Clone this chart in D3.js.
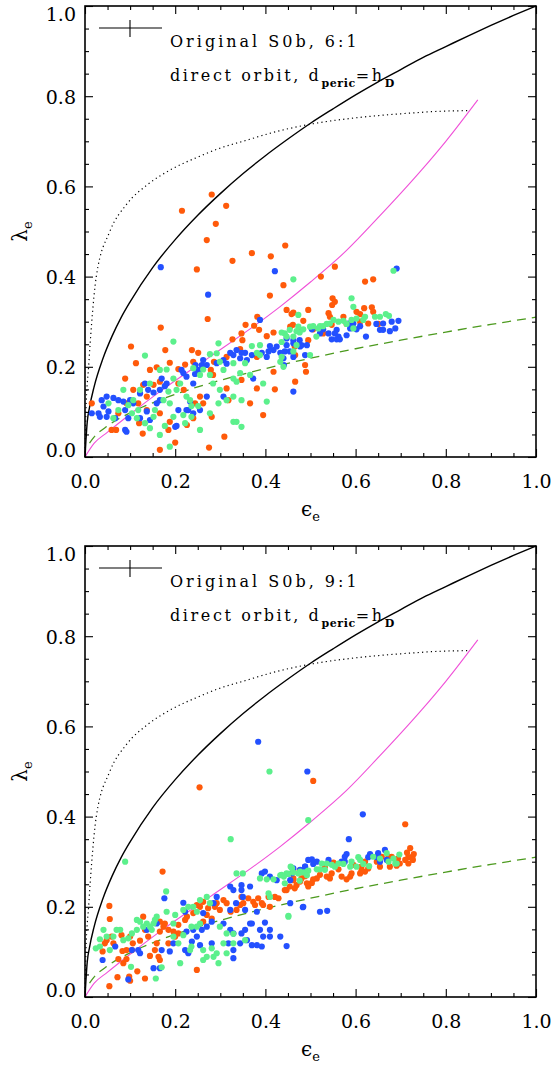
<!DOCTYPE html>
<html>
<head>
<meta charset="utf-8">
<script src="https://cdn.jsdelivr.net/npm/d3@7/dist/d3.min.js"></script>
<style>
  body { margin: 0; background: #fff; }
</style>
</head>
<body>
<div id="chart"></div>
<script>
// tick values
const majorTicks = [0, 0.2, 0.4, 0.6, 0.8, 1.0];
const minorTicks = [0.05, 0.1, 0.15, 0.25, 0.3, 0.35, 0.45, 0.5, 0.55, 0.65, 0.7, 0.75, 0.85, 0.9, 0.95];

// reference curves [epsilon, lambda]
const isoCurve = [[0,0],[0.005,0.078],[0.01,0.11],[0.02,0.155],[0.04,0.219],[0.06,0.268],[0.08,0.309],[0.1,0.344],[0.15,0.42],[0.2,0.482],[0.25,0.536],[0.3,0.584],[0.35,0.628],[0.4,0.668],[0.45,0.705],[0.5,0.74],[0.55,0.772],[0.6,0.803],[0.65,0.832],[0.7,0.859],[0.75,0.886],[0.8,0.91],[0.85,0.934],[0.9,0.957],[0.95,0.979],[1.0,1.0]];
const dottedCurve = [[0,0],[0.002,0.1],[0.008,0.2],[0.015,0.3],[0.025,0.4],[0.055,0.5],[0.092,0.56],[0.14,0.605],[0.188,0.636],[0.25,0.665],[0.3,0.685],[0.35,0.7],[0.43,0.723],[0.5,0.738],[0.6,0.752],[0.7,0.761],[0.8,0.767],[0.85,0.768]];
const magentaCurve = [[0,0],[0.02,0.03],[0.05,0.055],[0.09,0.087],[0.166,0.145],[0.277,0.222],[0.38,0.294],[0.432,0.333],[0.5,0.388],[0.58,0.458],[0.654,0.535],[0.746,0.636],[0.8,0.7],[0.871,0.792]];
const dashedCurve = [[0.01,0.031],[0.02,0.044],[0.05,0.069],[0.1,0.098],[0.15,0.12],[0.2,0.139],[0.3,0.17],[0.4,0.196],[0.5,0.219],[0.6,0.24],[0.7,0.259],[0.8,0.277],[0.9,0.294],[1.0,0.31]];

// top panel (6:1) points
const top61Orange = [[0.015,0.119],[0.281,0.582],[0.313,0.557],[0.215,0.546],[0.290,0.517],[0.270,0.481],[0.370,0.452],[0.444,0.469],[0.327,0.435],[0.412,0.445],[0.248,0.416],[0.410,0.358],[0.440,0.381],[0.272,0.306],[0.168,0.287],[0.447,0.326],[0.458,0.317],[0.495,0.326],[0.102,0.245],[0.178,0.237],[0.113,0.208],[0.089,0.174],[0.159,0.199],[0.356,0.293],[0.382,0.311],[0.375,0.291],[0.386,0.282],[0.347,0.274],[0.327,0.261],[0.349,0.259],[0.403,0.268],[0.418,0.276],[0.455,0.289],[0.477,0.282],[0.462,0.320],[0.495,0.259],[0.188,0.209],[0.207,0.195],[0.222,0.205],[0.237,0.237],[0.240,0.211],[0.251,0.231],[0.261,0.200],[0.279,0.193],[0.286,0.211],[0.314,0.222],[0.344,0.239],[0.381,0.222],[0.418,0.189],[0.347,0.171],[0.381,0.152],[0.421,0.150],[0.314,0.152],[0.284,0.182],[0.255,0.134],[0.262,0.119],[0.240,0.086],[0.226,0.071],[0.185,0.060],[0.200,0.032],[0.166,0.016],[0.275,0.021],[0.309,0.045],[0.281,0.089],[0.144,0.193],[0.129,0.160],[0.152,0.160],[0.166,0.167],[0.137,0.134],[0.107,0.149],[0.118,0.119],[0.092,0.119],[0.074,0.097],[0.059,0.060],[0.069,0.060],[0.120,0.075],[0.128,0.052],[0.137,0.104],[0.166,0.097],[0.188,0.078],[0.207,0.163],[0.219,0.149],[0.244,0.119],[0.318,0.126],[0.366,0.119],[0.395,0.093],[0.490,0.189],[0.466,0.167],[0.466,0.226],[0.488,0.204],[0.554,0.422],[0.523,0.400],[0.621,0.389],[0.639,0.394],[0.549,0.352],[0.554,0.344],[0.548,0.337],[0.484,0.302],[0.461,0.293],[0.540,0.319],[0.543,0.311],[0.573,0.311],[0.602,0.322],[0.610,0.317],[0.636,0.332],[0.639,0.322],[0.619,0.330],[0.580,0.295],[0.610,0.300],[0.628,0.296],[0.506,0.283],[0.528,0.274],[0.547,0.293],[0.465,0.245],[0.650,0.295]];
const top61Blue = [[0.168,0.421],[0.273,0.360],[0.421,0.412],[0.388,0.304],[0.015,0.097],[0.030,0.097],[0.037,0.126],[0.048,0.134],[0.063,0.131],[0.074,0.126],[0.085,0.123],[0.100,0.126],[0.107,0.119],[0.041,0.112],[0.052,0.101],[0.033,0.089],[0.048,0.089],[0.067,0.086],[0.089,0.104],[0.096,0.086],[0.089,0.060],[0.092,0.056],[0.122,0.086],[0.137,0.101],[0.144,0.082],[0.133,0.163],[0.140,0.149],[0.152,0.143],[0.122,0.141],[0.166,0.149],[0.177,0.157],[0.170,0.174],[0.181,0.163],[0.159,0.119],[0.166,0.126],[0.207,0.104],[0.200,0.067],[0.218,0.186],[0.214,0.193],[0.225,0.178],[0.240,0.163],[0.244,0.184],[0.245,0.204],[0.259,0.204],[0.251,0.193],[0.262,0.215],[0.270,0.204],[0.233,0.123],[0.225,0.104],[0.240,0.097],[0.255,0.104],[0.270,0.134],[0.307,0.215],[0.314,0.207],[0.322,0.231],[0.329,0.226],[0.336,0.237],[0.347,0.231],[0.355,0.231],[0.370,0.226],[0.359,0.215],[0.344,0.219],[0.307,0.134],[0.373,0.174],[0.418,0.237],[0.410,0.246],[0.407,0.234],[0.425,0.245],[0.433,0.231],[0.447,0.263],[0.462,0.252],[0.477,0.245],[0.492,0.248],[0.488,0.226],[0.441,0.204],[0.462,0.145],[0.392,0.231],[0.403,0.222],[0.292,0.208],[0.229,0.104],[0.203,0.069],[0.691,0.418],[0.680,0.300],[0.695,0.302],[0.661,0.296],[0.646,0.295],[0.688,0.285],[0.676,0.279],[0.661,0.282],[0.654,0.282],[0.623,0.267],[0.602,0.283],[0.588,0.285],[0.584,0.296],[0.558,0.282],[0.554,0.274],[0.562,0.267],[0.547,0.261],[0.558,0.261],[0.565,0.261],[0.540,0.274],[0.528,0.283],[0.521,0.274],[0.503,0.283],[0.462,0.222],[0.447,0.248],[0.462,0.259],[0.476,0.259],[0.480,0.248],[0.443,0.234],[0.454,0.234],[0.440,0.219],[0.580,0.270],[0.595,0.296],[0.610,0.290]];
const top61Green = [[0.196,0.256],[0.133,0.225],[0.296,0.252],[0.473,0.315],[0.381,0.231],[0.370,0.246],[0.388,0.248],[0.355,0.208],[0.329,0.208],[0.292,0.230],[0.277,0.228],[0.299,0.211],[0.307,0.193],[0.329,0.174],[0.336,0.167],[0.344,0.186],[0.366,0.182],[0.395,0.163],[0.433,0.211],[0.436,0.222],[0.277,0.182],[0.255,0.182],[0.240,0.197],[0.262,0.194],[0.284,0.163],[0.299,0.149],[0.329,0.134],[0.314,0.126],[0.347,0.126],[0.403,0.123],[0.296,0.119],[0.277,0.097],[0.336,0.078],[0.347,0.067],[0.329,0.078],[0.166,0.193],[0.181,0.194],[0.196,0.174],[0.211,0.163],[0.203,0.149],[0.185,0.145],[0.174,0.126],[0.188,0.119],[0.225,0.134],[0.233,0.126],[0.236,0.113],[0.251,0.113],[0.236,0.089],[0.218,0.093],[0.222,0.075],[0.255,0.060],[0.196,0.089],[0.177,0.069],[0.188,0.023],[0.166,0.049],[0.144,0.064],[0.152,0.089],[0.133,0.075],[0.115,0.086],[0.118,0.104],[0.104,0.097],[0.096,0.115],[0.085,0.149],[0.063,0.086],[0.074,0.104],[0.052,0.119],[0.107,0.126],[0.144,0.163],[0.122,0.149],[0.155,0.104],[0.388,0.226],[0.684,0.413],[0.462,0.394],[0.591,0.352],[0.595,0.333],[0.667,0.317],[0.674,0.313],[0.654,0.311],[0.643,0.311],[0.621,0.311],[0.617,0.304],[0.602,0.307],[0.591,0.304],[0.573,0.302],[0.562,0.300],[0.551,0.304],[0.543,0.296],[0.536,0.295],[0.521,0.290],[0.517,0.285],[0.506,0.290],[0.499,0.289],[0.484,0.283],[0.473,0.289],[0.476,0.276],[0.469,0.279],[0.454,0.282],[0.443,0.274],[0.436,0.276],[0.462,0.267],[0.447,0.267],[0.436,0.255],[0.513,0.267],[0.595,0.285],[0.580,0.295],[0.528,0.290],[0.469,0.248],[0.499,0.226],[0.462,0.234],[0.440,0.200]];

// bottom panel (9:1) points
const bot91Orange = [[0.254,0.465],[0.172,0.278],[0.054,0.202],[0.055,0.173],[0.054,0.024],[0.072,0.044],[0.098,0.045],[0.100,0.036],[0.133,0.041],[0.116,0.057],[0.248,0.060],[0.085,0.075],[0.074,0.084],[0.092,0.084],[0.083,0.102],[0.092,0.104],[0.104,0.104],[0.106,0.119],[0.100,0.134],[0.081,0.137],[0.048,0.126],[0.039,0.101],[0.059,0.134],[0.044,0.119],[0.063,0.119],[0.122,0.125],[0.129,0.178],[0.133,0.149],[0.140,0.134],[0.144,0.091],[0.159,0.119],[0.163,0.089],[0.166,0.082],[0.155,0.104],[0.166,0.145],[0.174,0.156],[0.177,0.163],[0.166,0.167],[0.185,0.149],[0.196,0.145],[0.207,0.160],[0.207,0.141],[0.200,0.134],[0.185,0.119],[0.222,0.171],[0.226,0.178],[0.240,0.186],[0.248,0.204],[0.255,0.200],[0.262,0.211],[0.273,0.197],[0.288,0.200],[0.292,0.208],[0.299,0.193],[0.307,0.215],[0.314,0.208],[0.323,0.189],[0.336,0.193],[0.344,0.204],[0.347,0.222],[0.351,0.208],[0.362,0.219],[0.373,0.211],[0.377,0.204],[0.384,0.219],[0.392,0.208],[0.395,0.204],[0.407,0.222],[0.410,0.200],[0.421,0.222],[0.429,0.219],[0.447,0.237],[0.469,0.248],[0.477,0.256],[0.492,0.252],[0.462,0.263],[0.495,0.245],[0.270,0.182],[0.281,0.174],[0.240,0.152],[0.262,0.167],[0.506,0.479],[0.710,0.383],[0.721,0.330],[0.714,0.320],[0.726,0.311],[0.729,0.317],[0.717,0.310],[0.710,0.304],[0.694,0.307],[0.698,0.296],[0.717,0.296],[0.727,0.304],[0.680,0.311],[0.673,0.311],[0.676,0.289],[0.691,0.291],[0.658,0.311],[0.654,0.289],[0.647,0.300],[0.621,0.300],[0.613,0.289],[0.628,0.285],[0.610,0.274],[0.621,0.278],[0.613,0.280],[0.591,0.274],[0.588,0.267],[0.580,0.261],[0.569,0.267],[0.551,0.298],[0.562,0.283],[0.547,0.274],[0.543,0.263],[0.536,0.267],[0.521,0.271],[0.514,0.263],[0.506,0.261],[0.503,0.253],[0.480,0.263],[0.476,0.281],[0.488,0.268],[0.462,0.259],[0.465,0.241],[0.443,0.237],[0.454,0.245],[0.532,0.289],[0.595,0.293]];
const bot91Blue = [[0.384,0.566],[0.493,0.500],[0.176,0.219],[0.218,0.209],[0.222,0.189],[0.262,0.186],[0.285,0.208],[0.292,0.222],[0.322,0.245],[0.329,0.237],[0.347,0.237],[0.347,0.248],[0.366,0.245],[0.350,0.222],[0.335,0.208],[0.322,0.193],[0.355,0.193],[0.381,0.189],[0.392,0.274],[0.399,0.278],[0.410,0.267],[0.425,0.259],[0.462,0.285],[0.477,0.282],[0.488,0.289],[0.495,0.304],[0.484,0.200],[0.455,0.208],[0.399,0.165],[0.366,0.163],[0.355,0.149],[0.347,0.141],[0.329,0.141],[0.322,0.149],[0.307,0.163],[0.281,0.167],[0.270,0.156],[0.259,0.149],[0.240,0.149],[0.248,0.134],[0.255,0.115],[0.229,0.097],[0.222,0.104],[0.281,0.119],[0.318,0.119],[0.329,0.104],[0.329,0.086],[0.344,0.119],[0.359,0.126],[0.370,0.115],[0.381,0.115],[0.392,0.112],[0.395,0.134],[0.410,0.134],[0.410,0.149],[0.433,0.134],[0.447,0.113],[0.388,0.149],[0.370,0.163],[0.196,0.119],[0.188,0.101],[0.170,0.104],[0.166,0.064],[0.152,0.064],[0.122,0.097],[0.118,0.104],[0.104,0.104],[0.096,0.039],[0.039,0.082],[0.067,0.112],[0.137,0.149],[0.159,0.163],[0.237,0.123],[0.225,0.145],[0.616,0.405],[0.585,0.350],[0.665,0.326],[0.580,0.317],[0.576,0.311],[0.632,0.317],[0.647,0.310],[0.654,0.300],[0.669,0.304],[0.650,0.319],[0.628,0.310],[0.540,0.304],[0.514,0.300],[0.506,0.295],[0.503,0.305],[0.488,0.289],[0.576,0.300],[0.569,0.300],[0.483,0.199],[0.521,0.189],[0.537,0.191],[0.455,0.259],[0.459,0.274]];
const bot91Green = [[0.409,0.500],[0.495,0.392],[0.323,0.350],[0.089,0.300],[0.180,0.234],[0.336,0.274],[0.350,0.274],[0.388,0.263],[0.403,0.261],[0.418,0.261],[0.433,0.270],[0.447,0.274],[0.462,0.276],[0.477,0.278],[0.456,0.289],[0.492,0.278],[0.407,0.230],[0.410,0.222],[0.451,0.180],[0.270,0.222],[0.255,0.215],[0.240,0.200],[0.248,0.189],[0.229,0.200],[0.218,0.193],[0.200,0.182],[0.196,0.163],[0.181,0.189],[0.159,0.178],[0.152,0.163],[0.148,0.149],[0.137,0.163],[0.129,0.156],[0.122,0.167],[0.115,0.171],[0.115,0.149],[0.104,0.141],[0.096,0.130],[0.085,0.126],[0.078,0.149],[0.070,0.149],[0.063,0.134],[0.048,0.134],[0.041,0.149],[0.033,0.128],[0.024,0.108],[0.033,0.112],[0.055,0.104],[0.102,0.067],[0.157,0.041],[0.170,0.066],[0.144,0.156],[0.155,0.171],[0.196,0.134],[0.207,0.119],[0.218,0.137],[0.233,0.104],[0.262,0.104],[0.270,0.089],[0.262,0.082],[0.285,0.089],[0.292,0.097],[0.296,0.075],[0.314,0.097],[0.307,0.119],[0.281,0.108],[0.329,0.119],[0.355,0.126],[0.299,0.156],[0.314,0.141],[0.248,0.156],[0.255,0.163],[0.277,0.208],[0.236,0.112],[0.329,0.140],[0.211,0.075],[0.236,0.156],[0.697,0.316],[0.669,0.319],[0.639,0.311],[0.654,0.307],[0.606,0.310],[0.610,0.304],[0.591,0.300],[0.602,0.289],[0.617,0.295],[0.630,0.290],[0.562,0.296],[0.573,0.295],[0.554,0.289],[0.547,0.293],[0.536,0.296],[0.525,0.296],[0.532,0.282],[0.521,0.283],[0.495,0.280],[0.484,0.276],[0.473,0.274],[0.459,0.285],[0.451,0.273],[0.441,0.267],[0.443,0.252],[0.476,0.258],[0.492,0.270],[0.514,0.283],[0.588,0.289],[0.673,0.300],[0.688,0.296],[0.684,0.307],[0.451,0.178],[0.436,0.271],[0.691,0.296]];

const colOrange = "#ff5a0a", colBlue = "#2350ff", colGreen = "#5cf08c";
const serif = "DejaVu Serif";

const panels = [
  {title: "Original S0b, 6:1", top: 6, bottom: 457, orange: top61Orange, blue: top61Blue, green: top61Green},
  {title: "Original S0b, 9:1", top: 546, bottom: 997, orange: bot91Orange, blue: bot91Blue, green: bot91Green}
];

const left = 85, right = 536;

const svg = d3.select("#chart").append("svg")
  .attr("width", 554)
  .attr("height", 1066)
  .style("background", "#fff");

const x = d3.scaleLinear().domain([0, 1]).range([left, right]);

panels.forEach(function(p) {
  const y = d3.scaleLinear().domain([0, 1]).range([p.bottom, p.top]);
  const g = svg.append("g");
  const line = d3.line().x(d => x(d[0])).y(d => y(d[1])).curve(d3.curveMonotoneX);

  // reference curves
  g.append("path").datum(dottedCurve).attr("d", line)
    .attr("fill", "none").attr("stroke", "#000").attr("stroke-width", 1.2)
    .attr("stroke-dasharray", "1.2,3.2");
  g.append("path").datum(dashedCurve).attr("d", line)
    .attr("fill", "none").attr("stroke", "#4c9a1e").attr("stroke-width", 1.3)
    .attr("stroke-dasharray", "9,6");
  g.append("path").datum(magentaCurve).attr("d", line)
    .attr("fill", "none").attr("stroke", "#f050d8").attr("stroke-width", 1.1);
  g.append("path").datum(isoCurve).attr("d", line)
    .attr("fill", "none").attr("stroke", "#000").attr("stroke-width", 1.4);

  // points
  [[p.orange, colOrange], [p.blue, colBlue], [p.green, colGreen]].forEach(function(s) {
    g.append("g").selectAll("circle")
      .data(s[0])
      .join("circle")
        .attr("cx", d => x(d[0]))
        .attr("cy", d => y(d[1]))
        .attr("r", 3.1)
        .attr("fill", s[1]);
  });

  // axes, ticks pointing inwards
  const fontAxis = function(sel) {
    sel.select(".domain").remove();
    sel.attr("font-family", serif).attr("font-size", 19).attr("fill", "#000");
    sel.selectAll("line").attr("stroke", "#000").attr("stroke-width", 1.1);
  };
  g.append("g").attr("transform", `translate(0,${p.bottom})`)
    .call(d3.axisBottom(x).tickValues(majorTicks).tickSize(-8).tickPadding(18).tickFormat(d3.format(".1f")))
    .call(fontAxis);
  g.append("g").attr("transform", `translate(0,${p.bottom})`)
    .call(d3.axisBottom(x).tickValues(minorTicks).tickSize(-4).tickFormat(""))
    .call(fontAxis);
  g.append("g").attr("transform", `translate(0,${p.top})`)
    .call(d3.axisTop(x).tickValues(majorTicks).tickSize(-8).tickFormat(""))
    .call(fontAxis);
  g.append("g").attr("transform", `translate(0,${p.top})`)
    .call(d3.axisTop(x).tickValues(minorTicks).tickSize(-4).tickFormat(""))
    .call(fontAxis);
  g.append("g").attr("transform", `translate(${left},0)`)
    .call(d3.axisLeft(y).tickValues(majorTicks).tickSize(-8).tickPadding(9).tickFormat(d3.format(".1f")))
    .call(fontAxis)
    .call(a => a.selectAll(".tick text").attr("dy", d => d === 1 ? "0.74em" : d === 0 ? "-0.02em" : "0.36em"));
  g.append("g").attr("transform", `translate(${left},0)`)
    .call(d3.axisLeft(y).tickValues(minorTicks).tickSize(-4).tickFormat(""))
    .call(fontAxis);
  g.append("g").attr("transform", `translate(${right},0)`)
    .call(d3.axisRight(y).tickValues(majorTicks).tickSize(-8).tickFormat(""))
    .call(fontAxis);
  g.append("g").attr("transform", `translate(${right},0)`)
    .call(d3.axisRight(y).tickValues(minorTicks).tickSize(-4).tickFormat(""))
    .call(fontAxis);

  // frame
  g.append("rect")
    .attr("x", left).attr("y", p.top)
    .attr("width", right - left).attr("height", p.bottom - p.top)
    .attr("fill", "none").attr("stroke", "#000").attr("stroke-width", 1.6);

  // legend
  g.append("line").attr("x1", 99).attr("x2", 162).attr("y1", p.top + 22).attr("y2", p.top + 22)
    .attr("stroke", "#000").attr("stroke-width", 1.1);
  g.append("line").attr("x1", 130).attr("x2", 130).attr("y1", p.top + 14).attr("y2", p.top + 31)
    .attr("stroke", "#000").attr("stroke-width", 1.1);
  g.append("text").attr("x", 170).attr("y", p.top + 41)
    .attr("font-family", serif).attr("font-size", 16).attr("letter-spacing", 3)
    .text(p.title);
  const t2 = g.append("text").attr("x", 170).attr("y", p.top + 75)
    .attr("font-family", serif).attr("font-size", 16).attr("letter-spacing", 2.6);
  t2.append("tspan").text("direct orbit, d");
  t2.append("tspan").attr("dy", 6).attr("font-size", 11).attr("font-weight", "bold").attr("letter-spacing", 0.6).text("peric");
  t2.append("tspan").attr("dy", -6).text("=h");
  t2.append("tspan").attr("dy", 6).attr("font-size", 11).attr("font-weight", "bold").text("D");

  // axis titles
  const xt = g.append("text").attr("x", (left + right) / 2).attr("y", p.bottom + 59)
    .attr("text-anchor", "middle").attr("font-family", serif).attr("font-size", 20);
  xt.append("tspan").text("\u03f5");
  xt.append("tspan").attr("dy", 5).attr("font-size", 13).text("e");

  const yt = g.append("text")
    .attr("transform", `translate(27,${y(0.5)}) rotate(-90)`)
    .attr("text-anchor", "middle").attr("font-family", serif).attr("font-size", 20);
  yt.append("tspan").text("\u03bb");
  yt.append("tspan").attr("dy", 5).attr("font-size", 13).text("e");
});
</script>
</body>
</html>
